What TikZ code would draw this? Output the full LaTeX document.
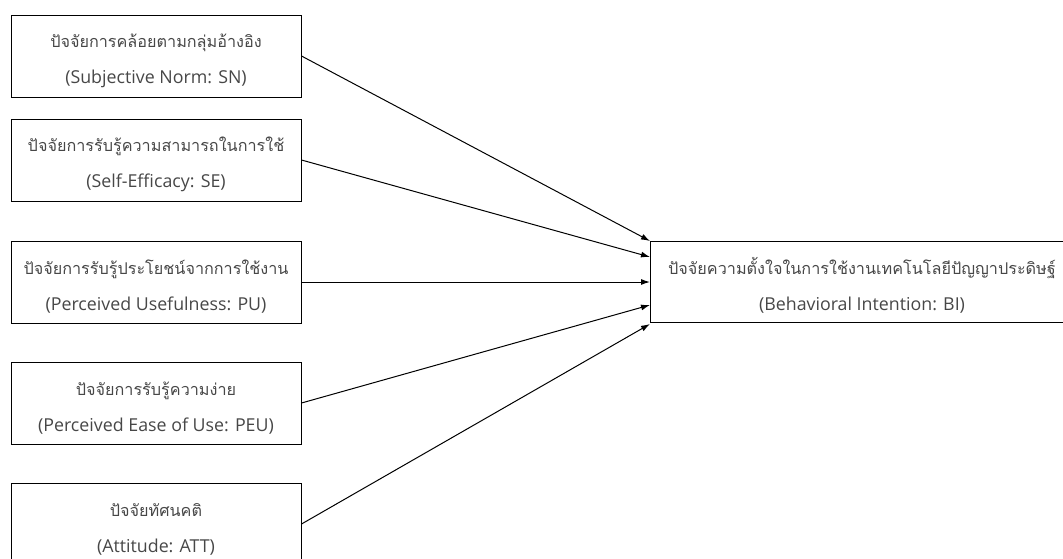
\documentclass[tikz,border=0pt]{standalone}
\usepackage{fontspec}
\setmainfont{Open Sans}
\newfontfamily\thaifont[Script=Thai]{Loma}
\usetikzlibrary{arrows.meta}
\newcommand{\twolines}[2]{{\thaifont\fontsize{16.2}{36}\selectfont\rule{0pt}{24pt}#1}\\{\fontsize{17.8}{36}\selectfont #2}}
\tikzset{
  factor/.style={draw, line width=1pt, minimum width=290pt, minimum height=82pt,
    inner sep=0pt, align=center, text=black!72,
    font=\fontsize{17.8}{36}\selectfont},
  link/.style={line width=1pt, -{Latex[length=9pt,width=6pt]}}
}
\begin{document}
\begin{tikzpicture}[x=1pt,y=-1pt]
\useasboundingbox (0,0) rectangle (1063,558);
\clip (0,0) rectangle (1063,558);
% factors on the left
\node[factor] (sn) at (156,56) {\twolines{ปัจจัยการคล้อยตามกลุ่มอ้างอิง}{(Subjective Norm: SN)}};
\node[factor] (se) at (156,160) {\twolines{ปัจจัยการรับรู้ความสามารถในการใช้}{(Self-Efficacy: SE)}};
\node[factor] (pu) at (156,282) {\twolines{ปัจจัยการรับรู้ประโยชน์จากการใช้งาน}{(Perceived Usefulness: PU)}};
\node[factor] (peu) at (156,403) {\twolines{ปัจจัยการรับรู้ความง่าย}{(Perceived Ease of Use: PEU)}};
\node[factor] (att) at (156,524) {\twolines{ปัจจัยทัศนคติ}{(Attitude: ATT)}};
% intention
\node[factor, minimum width=424pt, minimum height=81pt] (bi) at (862,281.5)
  {\twolines{ปัจจัยความตั้งใจในการใช้งานเทคโนโลยีปัญญาประดิษฐ์}{(Behavioral Intention: BI)}};
% arrow ends on the left side of bi
\coordinate (t1) at (650,241);
\coordinate (t2) at (650,257);
\coordinate (t3) at (650,282);
\coordinate (t4) at (650,305);
\coordinate (t5) at (650,324);
\draw[link] (sn.east) -- (t1);
\draw[link] (se.east) -- (t2);
\draw[link] (pu.east) -- (t3);
\draw[link] (peu.east) -- (t4);
\draw[link] (att.east) -- (t5);
\end{tikzpicture}
\end{document}
